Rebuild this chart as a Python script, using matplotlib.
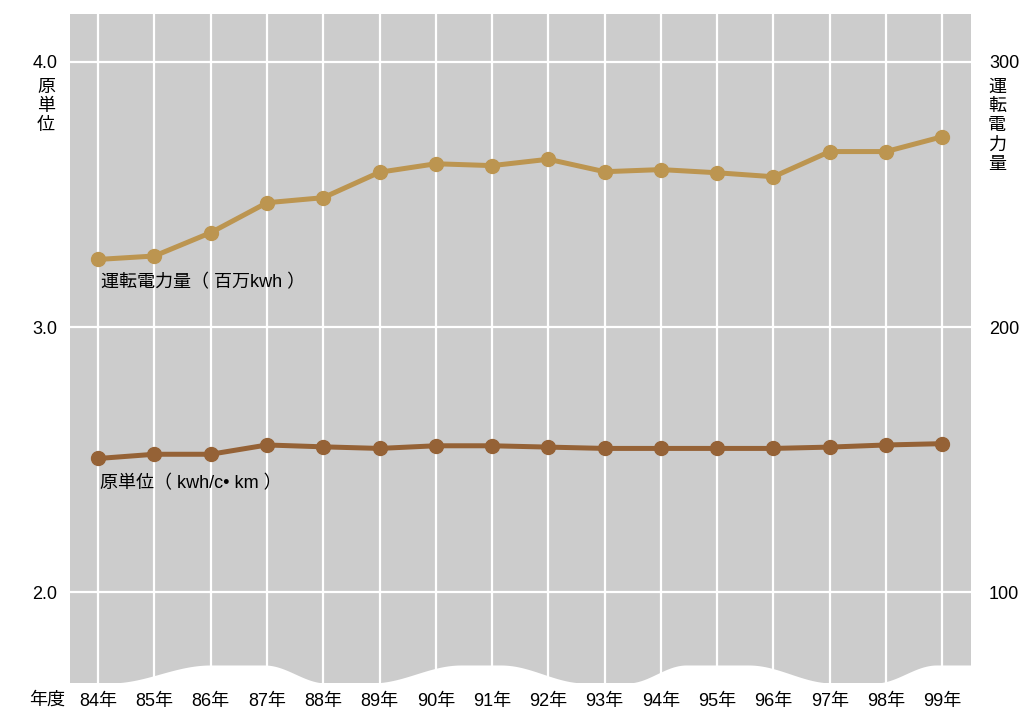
import numpy as np
import matplotlib.pyplot as plt

plt.rcParams['font.family'] = ['Liberation Sans', 'Noto Sans CJK JP', 'DejaVu Sans']

# 年度 (84年 .. 99年)
years = list(range(84, 100))
year_labels = [f'{y}年' for y in years]

# 運転電力量（百万kwh）- right axis
power = [225.5, 226.8, 235.6, 246.9, 248.8, 258.4, 261.6, 260.9,
         263.3, 258.6, 259.4, 258.2, 256.7, 266.2, 266.2, 271.8]
# 原単位（kwh/c・km）- left axis
unit = [2.504, 2.520, 2.520, 2.555, 2.548, 2.542, 2.552, 2.552,
        2.547, 2.542, 2.542, 2.542, 2.542, 2.547, 2.555, 2.560]

left_ticks = [2.0, 3.0, 4.0]
right_ticks = [100, 200, 300]

# wavy lower edge of the plot area: (year, value) key points
wave_x = [83.5, 84.2, 86.0, 86.95, 88.05, 88.85, 90.45, 91.15, 92.65,
          93.4, 94.45, 95.55, 97.05, 97.8, 98.9, 99.51]
wave_y = [1.657, 1.657, 1.725, 1.725, 1.657, 1.657, 1.725, 1.725, 1.657,
          1.657, 1.725, 1.725, 1.657, 1.657, 1.725, 1.725]

c_power = '#bc9550'
c_unit = '#956236'
bg = '#cccccc'
fs = 13

ylo, yhi = 1.657, 4.181

fig = plt.figure(figsize=(10.23, 7.13), dpi=100)
ax = fig.add_axes([70 / 1023, 1 - 683 / 713, 901 / 1023, 669 / 713])
ax.set_facecolor(bg)
ax.set_xlim(83.5, 99.51)
ax.set_ylim(ylo, yhi)
ax.set_xticks(years)
ax.set_yticks(left_ticks)
ax.grid(True, color='white', linewidth=1.6)
ax.set_axisbelow(True)
for s in ax.spines.values():
    s.set_visible(False)
ax.tick_params(length=0, labelsize=fs)
ax.set_xticklabels(year_labels)
ax.set_yticklabels([f'{v:.1f}' for v in left_ticks])
ax.tick_params(axis='x', pad=7)
ax.tick_params(axis='y', pad=9)

# smooth the wave between key points
xs, ys = [], []
for i in range(len(wave_x) - 1):
    t = np.linspace(0, 1, 30)
    e = (1 - np.cos(np.pi * t)) / 2
    xs.extend(wave_x[i] + (wave_x[i + 1] - wave_x[i]) * t)
    ys.extend(wave_y[i] + (wave_y[i + 1] - wave_y[i]) * e)
ax.fill_between(xs, ylo - 0.01, ys, color='white', zorder=1, linewidth=0)

ax.plot(years, unit, color=c_unit, linewidth=3.6, marker='o',
        markersize=10, zorder=3)

ax2 = ax.twinx()
ax2.set_ylim(ylo * 100 - 100, yhi * 100 - 100)
ax2.set_yticks(right_ticks)
ax2.set_yticklabels([str(v) for v in right_ticks])
ax2.tick_params(length=0, labelsize=fs, pad=13)
for s in ax2.spines.values():
    s.set_visible(False)
ax2.plot(years, power, color=c_power, linewidth=3.6, marker='o',
         markersize=10, zorder=3)

# series labels
ax.text(84.05, 3.168, '運転電力量（ 百万kwh ）', fontsize=fs, ha='left', va='center')
ax.text(84.03, 2.408, '原単位（ kwh/c• km ）', fontsize=fs, ha='left', va='center')

# axis titles written vertically
fig.text(46 / 1023, 1 - 79 / 713, '\n'.join('原単位'), fontsize=fs,
         ha='center', va='top', linespacing=1.17)
fig.text(997 / 1023, 1 - 79 / 713, '\n'.join('運転電力量'), fontsize=fs,
         ha='center', va='top', linespacing=1.17)
fig.text(47 / 1023, 1 - 700 / 713, '年度', fontsize=fs, ha='center', va='center')

fig.savefig('out.png', dpi=100)
